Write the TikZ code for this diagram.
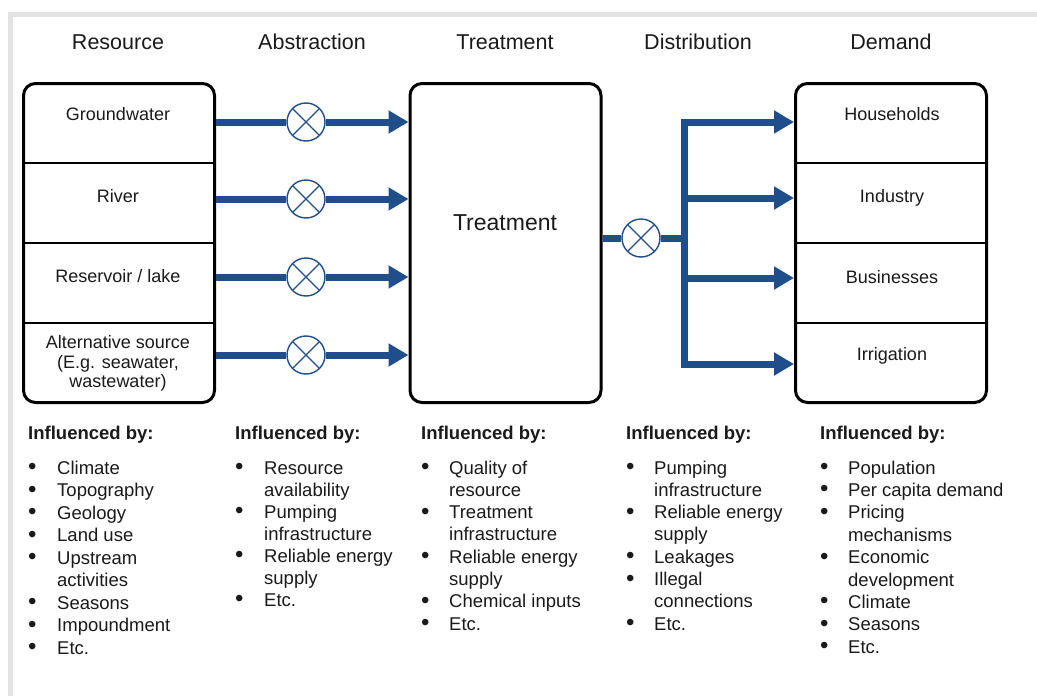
\documentclass[tikz,border=0pt]{standalone}
\usepackage{fontspec}
\setmainfont{Liberation Sans}
\usetikzlibrary{arrows.meta}
\definecolor{pipe}{HTML}{1F4E8A}
\definecolor{framegray}{HTML}{E3E3E3}
\definecolor{ink}{HTML}{1A1A1A}
% a slightly heavier list bullet
\newcommand{\lbul}{\raisebox{-0.5pt}{\scalebox{1.3}{\textbullet}}}
\begin{document}
\begin{tikzpicture}[x=1pt,y=-1pt,
  stagebox/.style={draw=black, line width=3pt, rounded corners=12pt,
    minimum width=191pt, minimum height=319pt, inner sep=0pt},
  divider/.style={draw=black, line width=1.4pt},
  headtext/.style={font=\fontsize{21.5}{24}\selectfont, anchor=base, inner sep=0pt, text=ink},
  boxtext/.style={font=\fontsize{18}{19.5}\selectfont, anchor=base, inner sep=0pt, align=center, text=ink},
  listhead/.style={font=\fontsize{18.5}{22}\selectfont\bfseries, anchor=base west, inner sep=0pt, text=ink},
  listtext/.style={font=\fontsize{18.5}{22.3}\selectfont, anchor=base west, inner sep=0pt, text=ink},
  valve/.style={circle, draw=pipe, line width=1.4pt, minimum size=38pt, inner sep=0pt,
    path picture={\draw[pipe, line width=1.4pt]
      (path picture bounding box.north west) -- (path picture bounding box.south east)
      (path picture bounding box.north east) -- (path picture bounding box.south west);}},
  pipeline/.style={draw=pipe, line width=7pt},
  feed/.style={pipeline, -{Triangle[length=20pt,width=22pt]}},
]
% canvas and page frame
\fill[white] (0,0) rectangle (1037,696);
\useasboundingbox (0,0) rectangle (1037,696);
\fill[framegray] (8,12) rectangle (1037,17);
\fill[framegray] (8,12) rectangle (13,696);

% stage headings
\node[headtext] (hres)  at (118,49.5) {Resource};
\node[headtext] (habs)  at (312,49.5) {Abstraction};
\node[headtext] (htre)  at (505,49.5) {Treatment};
\node[headtext] (hdis)  at (698,49.5) {Distribution};
\node[headtext] (hdem)  at (891,49.5) {Demand};

% the three stage boxes
\node[stagebox] (res)   at (119,243) {};
\node[stagebox] (treat) at (505.5,243) {};
\node[stagebox] (dem)   at (891,243) {};

\foreach \yy in {163,243,323} {
  \draw[divider] (res.west |- 0,\yy) -- (res.east |- 0,\yy);
  \draw[divider] (dem.west |- 0,\yy) -- (dem.east |- 0,\yy);
}

% source compartments
\node[boxtext] (gw)  at (118,120) {Groundwater};
\node[boxtext] (riv) at (118,202) {River};
\node[boxtext] (rsv) at (118,282) {Reservoir / lake};
\node[boxtext, anchor=north] (alt) at (118,335.5) {Alternative source\\(E.g. seawater,\\wastewater)};

% treatment
\node[headtext, font=\fontsize{23}{26}\selectfont] (trt) at (505,230) {Treatment};

% demand compartments
\node[boxtext] (hh)  at (892,120) {Households};
\node[boxtext] (ind) at (892,202) {Industry};
\node[boxtext] (bus) at (892,283) {Businesses};
\node[boxtext] (irr) at (892,360) {Irrigation};

% abstraction pipes with valves
\foreach \i/\yy in {1/122,2/199,3/277,4/355} {
  \node[valve] (v\i) at (306,\yy) {};
  \draw[pipeline] (res.east |- v\i) -- (v\i);
  \draw[feed] (v\i) -- (treat.west |- v\i);
}

% distribution manifold
\node[valve] (dv) at (641,238) {};
\coordinate (hub) at (684,238);
\coordinate (b1) at (684,122);
\coordinate (b2) at (684,198);
\coordinate (b3) at (684,278);
\coordinate (b4) at (684,364);
\draw[pipeline] (treat.east |- dv) -- (dv);
\draw[pipeline] (dv) -- (hub);
\draw[feed] (hub) |- (dem.west |- b1);
\draw[feed] (hub) |- (dem.west |- b4);
\draw[feed] (b2) -- (dem.west |- b2);
\draw[feed] (b3) -- (dem.west |- b3);

% influencing factors
\node[listhead] (f1h) at (28,439) {Influenced by:};
\node[listtext] (f1) at (28,474) {\def\arraystretch{1.01}\begin{tabular}[t]{@{}p{29pt}@{}l@{}}
\lbul & Climate\\
\lbul & Topography\\
\lbul & Geology\\
\lbul & Land use\\
\lbul & Upstream\\
 & activities\\
\lbul & Seasons\\
\lbul & Impoundment\\
\lbul & Etc.
\end{tabular}};

\node[listhead] (f2h) at (235,439) {Influenced by:};
\node[listtext] (f2) at (235,474) {\def\arraystretch{0.99}\begin{tabular}[t]{@{}p{29pt}@{}l@{}}
\lbul & Resource\\
 & availability\\
\lbul & Pumping\\
 & infrastructure\\
\lbul & Reliable energy\\
 & supply\\
\lbul & Etc.
\end{tabular}};

\node[listhead] (f3h) at (421,439) {Influenced by:};
\node[listtext] (f3) at (421,474) {\begin{tabular}[t]{@{}p{28pt}@{}l@{}}
\lbul & Quality of\\
 & resource\\
\lbul & Treatment\\
 & infrastructure\\
\lbul & Reliable energy\\
 & supply\\
\lbul & Chemical inputs\\
\lbul & Etc.
\end{tabular}};

\node[listhead] (f4h) at (626,439) {Influenced by:};
\node[listtext] (f4) at (626,474) {\begin{tabular}[t]{@{}p{28pt}@{}l@{}}
\lbul & Pumping\\
 & infrastructure\\
\lbul & Reliable energy\\
 & supply\\
\lbul & Leakages\\
\lbul & Illegal\\
 & connections\\
\lbul & Etc.
\end{tabular}};

\node[listhead] (f5h) at (820,439) {Influenced by:};
\node[listtext] (f5) at (820,474) {\def\arraystretch{1.005}\begin{tabular}[t]{@{}p{28pt}@{}l@{}}
\lbul & Population\\
\lbul & Per capita demand\\
\lbul & Pricing\\
 & mechanisms\\
\lbul & Economic\\
 & development\\
\lbul & Climate\\
\lbul & Seasons\\
\lbul & Etc.
\end{tabular}};
\end{tikzpicture}
\end{document}
